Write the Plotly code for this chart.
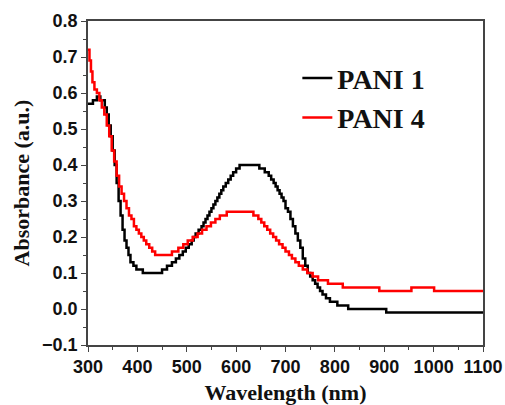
import plotly.graph_objects as go

# PANI 1 (black) - step points (wavelength nm, absorbance)
pani1_x = [300, 310, 318, 325, 334, 338, 342, 346, 350, 354, 358, 362, 366, 370, 374, 378,
           382, 386, 392, 398, 411, 450, 460, 470, 478, 485, 492, 498, 504, 510, 514, 518,
           524, 530, 534, 538, 542, 546, 550, 554, 558, 562, 566, 570, 574, 579, 584, 589,
           594, 600, 607, 647, 658, 666, 671, 676, 680, 684, 688, 692, 696, 700, 705, 710,
           715, 720, 725, 730, 735, 740, 745, 750, 755, 760, 765, 770, 775, 782, 790, 805,
           827, 904, 1100]
pani1_y = [0.57, 0.58, 0.59, 0.58, 0.56, 0.54, 0.51, 0.48, 0.44, 0.40, 0.35, 0.30, 0.26, 0.22, 0.19, 0.17,
           0.15, 0.13, 0.12, 0.11, 0.10, 0.11, 0.12, 0.13, 0.14, 0.15, 0.16, 0.17, 0.18, 0.19, 0.20, 0.21,
           0.22, 0.23, 0.24, 0.25, 0.26, 0.27, 0.28, 0.29, 0.30, 0.31, 0.32, 0.33, 0.34, 0.35, 0.36, 0.37,
           0.38, 0.39, 0.40, 0.39, 0.38, 0.37, 0.36, 0.35, 0.34, 0.33, 0.32, 0.31, 0.30, 0.28, 0.27, 0.25,
           0.23, 0.21, 0.19, 0.17, 0.14, 0.12, 0.10, 0.09, 0.08, 0.07, 0.06, 0.05, 0.04, 0.03, 0.02, 0.01,
           0.00, -0.01, -0.01]

# PANI 4 (red)
pani4_x = [300, 303, 306, 309, 313, 318, 323, 328, 333, 338, 343, 348, 353, 358, 363, 368,
           373, 378, 383, 388, 393, 398, 403, 408, 413, 418, 424, 430, 436, 470, 483, 493,
           502, 512, 522, 531, 540, 549, 558, 567, 581, 635, 645, 651, 657, 663, 669, 675,
           681, 687, 694, 700, 707, 713, 720, 727, 735, 744, 755, 766, 786, 816, 890, 955,
           1001, 1100]
pani4_y = [0.72, 0.69, 0.66, 0.63, 0.61, 0.60, 0.58, 0.56, 0.54, 0.51, 0.48, 0.44, 0.41, 0.37, 0.34, 0.32,
           0.30, 0.28, 0.26, 0.25, 0.23, 0.22, 0.21, 0.20, 0.19, 0.18, 0.17, 0.16, 0.15, 0.16, 0.17, 0.18,
           0.19, 0.20, 0.21, 0.22, 0.23, 0.24, 0.25, 0.26, 0.27, 0.26, 0.25, 0.24, 0.23, 0.22, 0.21, 0.20,
           0.19, 0.18, 0.17, 0.16, 0.15, 0.14, 0.13, 0.12, 0.11, 0.10, 0.09, 0.08, 0.07, 0.06, 0.05, 0.06,
           0.05, 0.05]

x_ticks = [300, 400, 500, 600, 700, 800, 900, 1000, 1100]
y_ticks = [-0.1, 0.0, 0.1, 0.2, 0.3, 0.4, 0.5, 0.6, 0.7, 0.8]
y_tick_labels = ["\u22120.1", "0.0", "0.1", "0.2", "0.3", "0.4", "0.5", "0.6", "0.7", "0.8"]

fig = go.Figure()
fig.add_trace(go.Scatter(x=pani1_x, y=pani1_y, mode="lines", name="<b>PANI 1</b>",
                         line=dict(color="black", width=2.5, shape="hv")))
fig.add_trace(go.Scatter(x=pani4_x, y=pani4_y, mode="lines", name="<b>PANI 4</b>",
                         line=dict(color="#ff0000", width=2.5, shape="hv")))

axis_common = dict(
    showline=True, linecolor="#444444", linewidth=1.5, mirror=True,
    showgrid=False, zeroline=False, automargin=False,
    ticks="outside", ticklen=5, tickwidth=1.2, tickcolor="#444444",
    tickfont=dict(family="Liberation Sans", size=18, color="#111111"),
)

fig.update_xaxes(
    range=[300, 1100], tickvals=x_ticks, ticktext=["<b>%d</b>" % t for t in x_ticks],
    minor=dict(ticks="outside", ticklen=3, tickwidth=1, tickcolor="#444444", dtick=50, tick0=300),
    title=dict(text="<b>Wavelength (nm)</b>", font=dict(family="Liberation Serif", size=22, color="#111111"),
               standoff=13),
    **axis_common,
)
fig.update_yaxes(
    range=[-0.1, 0.8], tickvals=y_ticks, ticktext=["<b>%s</b>" % t for t in y_tick_labels],
    minor=dict(ticks="outside", ticklen=3, tickwidth=1, tickcolor="#444444", dtick=0.05, tick0=0),
    title=dict(text="<b>Absorbance (a.u.)</b>", font=dict(family="Liberation Serif", size=22, color="#111111"),
               standoff=6),
    **axis_common,
)

fig.update_layout(
    width=505, height=405,
    margin=dict(l=88, r=22, t=21, b=60),
    plot_bgcolor="white", paper_bgcolor="white",
    legend=dict(x=0.53, y=0.90, xanchor="left", yanchor="top",
                font=dict(family="Liberation Serif", size=28, color="#111111"),
                bgcolor="rgba(0,0,0,0)", tracegroupgap=0),
    showlegend=True,
)

fig.write_html(
    "out.html",
    config={"displayModeBar": False},
    post_script="document.body.style.margin='0';document.body.style.overflow='hidden';",
)
